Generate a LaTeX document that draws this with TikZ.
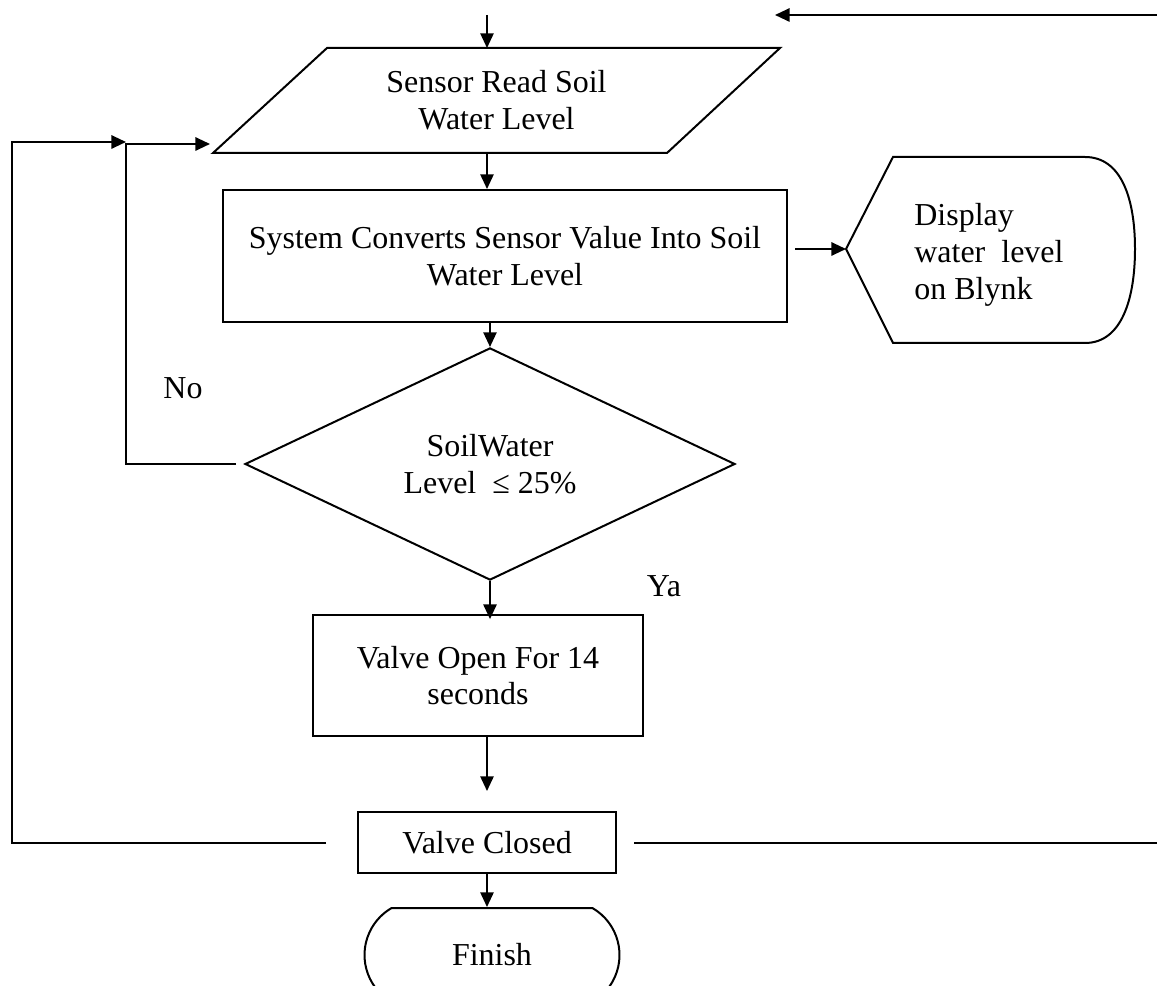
\documentclass[tikz,border=0pt]{standalone}
\usepackage{fontspec}
\setmainfont{Liberation Serif}
\usetikzlibrary{shapes.geometric,shapes.misc,arrows.meta,positioning}
\newcommand{\pxu}{0.0132cm}

\begin{document}
\begin{tikzpicture}[
		x=0.0132cm, y=-0.0132cm,
		every node/.style={font=\fontsize{12}{13.8}\selectfont, align=center},
		box/.style={draw, rectangle, line width=0.75pt, inner sep=0pt},
		decision/.style={draw, diamond, line width=0.75pt, inner sep=0pt},
		terminal/.style={draw, rounded rectangle, rounded rectangle arc length=120,
			line width=0.75pt, inner sep=0pt},
		flow/.style={line width=0.6pt, -{Triangle[length=5.5pt, width=5pt]}},
		back/.style={line width=0.75pt, -{Triangle[length=5.5pt, width=5pt]}},
		line/.style={line width=0.75pt}
		]
		\useasboundingbox (0,0) rectangle (1157,986);
		\clip (0,0) rectangle (1157,986);

		\node (read) at (496.5,100.5) {Sensor Read Soil\\Water Level};
		\draw[line] (327,48) -- (780,48) -- (667,153) -- (213,153) -- cycle;
		\node[box, minimum width=564*\pxu, minimum height=132*\pxu] (conv) at (505,256) {System Converts Sensor Value Into Soil\\Water Level};
		\node[decision, minimum width=490*\pxu, minimum height=218*\pxu] (check) at (490,464) {SoilWater\\Level~ ≤ 25\%};
		\node[box, minimum width=330*\pxu, minimum height=121*\pxu] (open) at (478,675.5) {Valve Open For 14\\seconds};
		\node[box, minimum width=258*\pxu, minimum height=61*\pxu] (closed) at (487,842.5) {Valve Closed};
		\node[terminal, minimum width=255*\pxu, minimum height=94*\pxu] (finish) at (492,955) {Finish};
		\node[align=left, anchor=west] (disp) at (905,255) {Display\\water~ level\\on Blynk};
		\draw[line] (846,249) coordinate (disp-in) -- (893,157) -- (1085,157)
			.. controls (1122,157) and (1135,200) .. (1135,249)
			.. controls (1135,298) and (1122,343) .. (1085,343) -- (893,343) -- cycle;

		\node (no) at (183,388) {No};
		\node (ya) at (664,586) {Ya};

		\coordinate (start) at (487,15);
		\coordinate (read-top) at (487,48);
		\coordinate (read-bot) at (487,153);
		\coordinate (loop-in) at (126,144);
		\coordinate (back-in) at (12,142);
		\coordinate (right-end) at (1157,843);
		\coordinate (top-end) at (1157,15);

		\draw[flow] (start) -- (read-top);
		\draw[flow] (read-bot) -- (read-bot |- conv.north);
		\path (conv.east |- disp-in) ++(7,0) coordinate (disp-out);
		\draw[back] (disp-out) -- (disp-in);
		\draw[flow] (check.north |- conv.south) -- (check.north);
		\draw[flow] (check.south) -- ++(0,38);
		\draw[flow] (open.south -| closed.north) -- ++(0,54);
		\draw[flow] (closed.south) -- (closed.south |- finish.north);
		\draw[back] ([xshift=-8*\pxu]check.west) -| (loop-in) -- ++(84,0);
		\draw[back] ([xshift=-31*\pxu]closed.west) -| (back-in) -- (back-in -| loop-in);
		\draw[line] ([xshift=17*\pxu]closed.east) -- (closed.east -| right-end);
		\draw[back] (top-end) -- ++(-382,0);
	\end{tikzpicture}
\end{document}
